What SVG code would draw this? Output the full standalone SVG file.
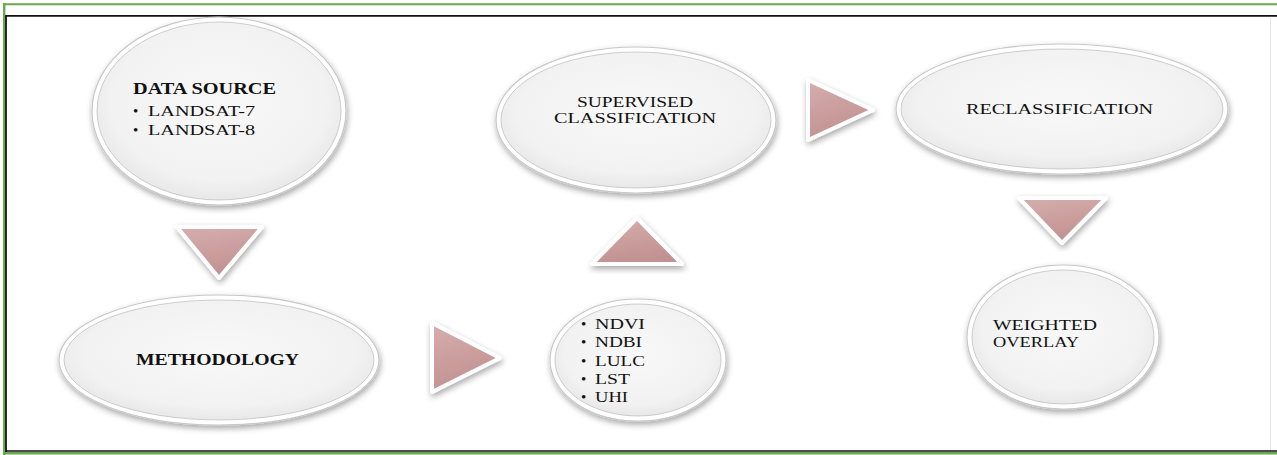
<svg xmlns="http://www.w3.org/2000/svg" width="1277" height="455" viewBox="0 0 1277 455">
<defs>
<radialGradient id="face" cx="50%" cy="45%" r="55%">
<stop offset="0" stop-color="#f8f8f8"/>
<stop offset="0.8" stop-color="#f2f2f2"/>
<stop offset="1" stop-color="#e8e8e8"/>
</radialGradient>
<linearGradient id="pink" x1="0" y1="0" x2="0.3" y2="1">
<stop offset="0" stop-color="#d6aeae"/>
<stop offset="1" stop-color="#c29191"/>
</linearGradient>
<filter id="sh" x="-20%" y="-20%" width="140%" height="140%">
<feGaussianBlur in="SourceAlpha" stdDeviation="3"/>
<feOffset dx="1" dy="3" result="b"/>
<feComponentTransfer><feFuncA type="linear" slope="0.35"/></feComponentTransfer>
<feMerge><feMergeNode/><feMergeNode in="SourceGraphic"/></feMerge>
</filter>
</defs>
<style>
.rim{fill:#ffffff;stroke:#c8c8c8;stroke-width:1.2;filter:url(#sh)}
.face{fill:url(#face);stroke:#b0b0b0;stroke-width:1;stroke-opacity:0.6}
.tri{fill:url(#pink);stroke:#ffffff;stroke-width:4;stroke-linejoin:round;filter:url(#sh)}
text{font-family:"Liberation Serif","Times New Roman",serif;fill:#111111;font-size:15px}
.b{font-weight:bold;font-size:16px}
</style>
<rect width="1277" height="455" fill="#ffffff"/>
<g id="frame">
<line x1="3" y1="4.2" x2="1277" y2="4.2" stroke="#6aa84f" stroke-width="2"/>
<line x1="4.2" y1="3" x2="4.2" y2="455" stroke="#6aa84f" stroke-width="2.4"/>
<line x1="3" y1="453.3" x2="1277" y2="453.3" stroke="#6aa84f" stroke-width="2.4"/>
<line x1="6" y1="15.8" x2="1277" y2="15.8" stroke="#111111" stroke-width="1.8"/>
<line x1="6" y1="15" x2="6" y2="452" stroke="#111111" stroke-width="1.8"/>
<line x1="6" y1="451" x2="1277" y2="451" stroke="#111111" stroke-width="1.6"/>
<line x1="1270.5" y1="18" x2="1270.5" y2="450" stroke="#e6e6e6" stroke-width="1"/>
</g>
<g id="connectors">
<polygon class="tri" points="177,227 262,227 219,278"/>
<polygon class="tri" points="432,323 432,392 500,358"/>
<polygon class="tri" points="592,264 682,264 637,218"/>
<polygon class="tri" points="808,80 808,140 873,110"/>
<polygon class="tri" points="1019,198 1106,198 1062,243"/>
</g>
<g id="node-data-source">
<ellipse class="rim" cx="219" cy="111" rx="127" ry="94"/>
<ellipse class="face" cx="219" cy="111" rx="122" ry="89"/>
<text class="b" x="133" y="94" textLength="143" lengthAdjust="spacingAndGlyphs">DATA SOURCE</text>
<text x="133" y="116">•</text>
<text x="148" y="116" textLength="107" lengthAdjust="spacingAndGlyphs">LANDSAT-7</text>
<text x="133" y="135">•</text>
<text x="148" y="135" textLength="107" lengthAdjust="spacingAndGlyphs">LANDSAT-8</text>
</g>
<g id="node-methodology">
<ellipse class="rim" cx="219" cy="360" rx="160" ry="65"/>
<ellipse class="face" cx="219" cy="360" rx="155" ry="60"/>
<text class="b" x="136" y="365" textLength="163" lengthAdjust="spacingAndGlyphs">METHODOLOGY</text>
</g>
<g id="node-indices">
<ellipse class="rim" cx="638" cy="360" rx="88" ry="61"/>
<ellipse class="face" cx="638" cy="360" rx="83" ry="56"/>
<text x="581" y="329">•</text><text x="595" y="329" textLength="50" lengthAdjust="spacingAndGlyphs">NDVI</text>
<text x="581" y="347">•</text><text x="595" y="347" textLength="47" lengthAdjust="spacingAndGlyphs">NDBI</text>
<text x="581" y="366">•</text><text x="595" y="366" textLength="50" lengthAdjust="spacingAndGlyphs">LULC</text>
<text x="581" y="384">•</text><text x="595" y="384" textLength="35" lengthAdjust="spacingAndGlyphs">LST</text>
<text x="581" y="402">•</text><text x="595" y="402" textLength="33" lengthAdjust="spacingAndGlyphs">UHI</text>
</g>
<g id="node-supervised">
<ellipse class="rim" cx="636" cy="120" rx="140" ry="73"/>
<ellipse class="face" cx="636" cy="120" rx="135" ry="68"/>
<text x="577" y="107" textLength="116" lengthAdjust="spacingAndGlyphs">SUPERVISED</text>
<text x="554" y="123" textLength="162" lengthAdjust="spacingAndGlyphs">CLASSIFICATION</text>
</g>
<g id="node-reclassification">
<ellipse class="rim" cx="1062" cy="109" rx="166" ry="65"/>
<ellipse class="face" cx="1062" cy="109" rx="161" ry="60"/>
<text x="966" y="114" font-size="16" textLength="187" lengthAdjust="spacingAndGlyphs">RECLASSIFICATION</text>
</g>
<g id="node-weighted-overlay">
<ellipse class="rim" cx="1063" cy="337" rx="96" ry="72"/>
<ellipse class="face" cx="1063" cy="337" rx="91" ry="67"/>
<text x="993" y="330" textLength="104" lengthAdjust="spacingAndGlyphs">WEIGHTED</text>
<text x="993" y="347" textLength="86" lengthAdjust="spacingAndGlyphs">OVERLAY</text>
</g>
</svg>
